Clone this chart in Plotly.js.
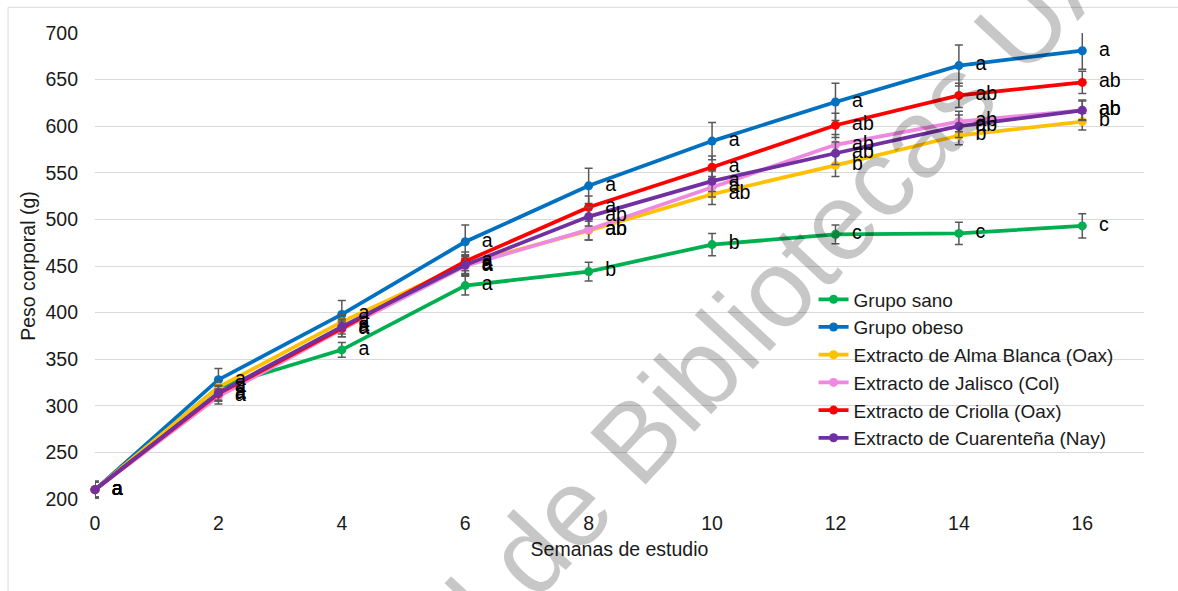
<!DOCTYPE html>
<html>
<head>
<meta charset="utf-8">
<script src="https://cdn.plot.ly/plotly-3.0.1.min.js"></script>
<style>
  html, body { margin: 0; padding: 0; background: #ffffff; }
  #chart { width: 1178px; height: 591px; }
</style>
</head>
<body>
<div id="chart"></div>
<script>
// Weeks of study (x axis)
const weeks = [0, 2, 4, 6, 8, 10, 12, 14, 16];

// Series names (legend order)
const seriesNames = [
  'Grupo sano',
  'Grupo obeso',
  'Extracto de Alma Blanca (Oax)',
  'Extracto de Jalisco (Col)',
  'Extracto de Criolla (Oax)',
  'Extracto de Cuarenteña (Nay)'
];

// Mean body weight (g) per group
const sano       = [210, 320, 360, 429, 444, 473, 484, 485, 493];
const obeso      = [210, 328, 398, 476, 536, 584, 626, 665, 681];
const almaBlanca = [210, 320, 390, 452, 488, 527, 558, 590, 605];
const jalisco    = [210, 310, 382, 450, 489, 535, 580, 605, 617];
const criolla    = [210, 313, 383, 455, 513, 556, 601, 633, 647];
const cuarentena = [210, 314, 385, 451, 503, 541, 571, 600, 617];

// Error (± g) per group
const errSano       = [9, 7, 8, 10, 10, 12, 10, 12, 13];
const errObeso      = [9, 12, 15, 18, 19, 20, 20, 22, 20];
const errAlmaBlanca = [8, 8, 8, 10, 10, 11, 12, 10, 9];
const errJalisco    = [8, 8, 8, 10, 11, 11, 11, 11, 10];
const errCriolla    = [8, 8, 9, 10, 12, 12, 13, 13, 12];
const errCuarentena = [8, 8, 8, 10, 10, 11, 12, 12, 11];

// Significance letters per group
const letSano       = ['a', 'a', 'a', 'a', 'b', 'b', 'c', 'c', 'c'];
const letObeso      = ['a', 'a', 'a', 'a', 'a', 'a', 'a', 'a', 'a'];
const letAlmaBlanca = ['a', 'a', 'a', 'a', 'ab', 'ab', 'b', 'b', 'b'];
const letJalisco    = ['a', 'a', 'a', 'a', 'ab', 'a', 'ab', 'ab', 'ab'];
const letCriolla    = ['a', 'a', 'a', 'a', 'a', 'a', 'ab', 'ab', 'ab'];
const letCuarentena = ['a', 'a', 'a', 'a', 'ab', 'a', 'ab', 'ab', 'ab'];

const colors = ['#00B050', '#0070C0', '#FFC000', '#EE88E0', '#FF0000', '#7030A0'];

const values  = [sano, obeso, almaBlanca, jalisco, criolla, cuarentena];
const errors  = [errSano, errObeso, errAlmaBlanca, errJalisco, errCriolla, errCuarentena];
const letters = [letSano, letObeso, letAlmaBlanca, letJalisco, letCriolla, letCuarentena];

const FONT = 'Liberation Sans, Arial, sans-serif';
const FS = 19.5;

const lineTraces = values.map((v, i) => ({
  type: 'scatter',
  mode: 'lines+markers',
  name: seriesNames[i],
  x: weeks,
  y: v,
  line: { color: colors[i], width: 3.75 },
  marker: { color: colors[i], size: 9 },
  error_y: { type: 'data', array: errors[i], visible: true, color: '#595959', thickness: 1.5, width: 4 },
  cliponaxis: false,
  hoverinfo: 'x+y+name'
}));

// Letter labels sit to the right of each point; the invisible marker sets the gap
const textTraces = values.map((v, i) => ({
  type: 'scatter',
  mode: 'markers+text',
  x: weeks,
  y: v,
  text: letters[i],
  textposition: 'middle right',
  textfont: { family: FONT, size: FS, color: '#000000' },
  marker: { size: 25, color: 'rgba(0,0,0,0)' },
  showlegend: false,
  cliponaxis: false,
  hoverinfo: 'skip'
}));

const layout = {
  width: 1178,
  height: 591,
  margin: { l: 95, r: 34, t: 33, b: 92 },
  paper_bgcolor: '#ffffff',
  plot_bgcolor: '#ffffff',
  font: { family: FONT, size: FS, color: '#1a1a1a' },
  showlegend: true,
  legend: {
    x: 0.685, y: 0.469, xanchor: 'left', yanchor: 'top',
    bgcolor: 'rgba(0,0,0,0)',
    font: { family: FONT, size: 19, color: '#1a1a1a' },
    tracegroupgap: 0,
    itemwidth: 30
  },
  xaxis: {
    range: [0, 17],
    tickvals: [0, 2, 4, 6, 8, 10, 12, 14, 16],
    showgrid: false,
    zeroline: false,
    showline: false,
    ticks: '',
    ticklabelstandoff: 10,
    title: { text: 'Semanas de estudio', font: { family: FONT, size: FS, color: '#1a1a1a' }, standoff: 9 }
  },
  yaxis: {
    range: [200, 700],
    dtick: 50,
    showgrid: true,
    gridcolor: '#d9d9d9',
    gridwidth: 1,
    zeroline: false,
    showline: false,
    ticks: '',
    ticklabelstandoff: 16,
    title: { text: 'Peso corporal (g)', font: { family: FONT, size: FS, color: '#1a1a1a' }, standoff: 4 }
  },
  shapes: [{
    type: 'rect', xref: 'paper', yref: 'paper',
    x0: -0.0829, x1: 1.3, y0: -0.4, y1: 1.0551,
    line: { color: '#d9d9d9', width: 1 },
    fillcolor: 'rgba(0,0,0,0)',
    layer: 'below'
  }],
  annotations: [{
    text: 'Dirección General de Bibliotecas UAQ',
    xref: 'paper', yref: 'paper',
    x: 0.407, y: -0.1315,
    xanchor: 'center', yanchor: 'middle',
    textangle: -47,
    showarrow: false,
    font: { family: FONT, size: 110, color: 'rgba(0,0,0,0.22)' }
  }]
};

Plotly.newPlot('chart', lineTraces.concat(textTraces), layout, { displayModeBar: false, staticPlot: true });
</script>
</body>
</html>
